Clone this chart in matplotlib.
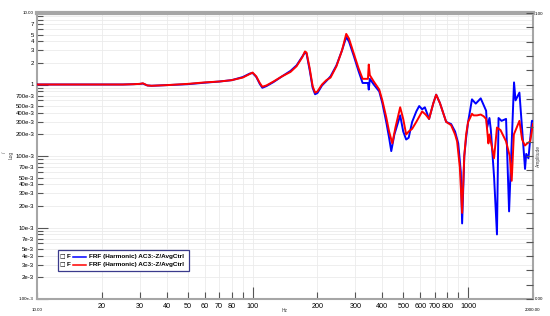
import numpy as np
import matplotlib
matplotlib.use("Agg")
import matplotlib.pyplot as plt
from matplotlib.ticker import FixedLocator, NullFormatter
from matplotlib.lines import Line2D
from matplotlib.patches import Rectangle

plt.rcParams['font.family'] = ['Liberation Sans', 'DejaVu Sans']

# --- data ------------------------------------------------------------------
freq_red = [10, 15, 20, 25, 28, 30, 31, 32.5, 34, 40, 50, 60, 70, 80, 90, 97,
            100, 104, 108, 111, 116, 125, 137, 150, 160, 170, 175, 178, 184,
            190, 195, 200, 210, 220, 230, 245, 260, 272, 280, 295, 310, 324,
            335, 343, 346, 350, 365, 387, 400, 417, 430, 445, 460, 484, 500,
            516, 530, 550, 575, 612, 635, 659, 690, 711, 740, 791, 834, 870,
            889, 915, 938, 960, 979, 1000, 1021, 1042, 1060, 1100, 1144, 1180,
            1212, 1242, 1256, 1280, 1319, 1361, 1414, 1500, 1560, 1593, 1630,
            1730, 1780, 1834, 1880, 1940, 2000]
amp_red = [1.0, 1.0, 1.0, 1.0, 1.01, 1.02, 1.04, 0.97, 0.96, 0.98, 1.02, 1.07,
           1.1, 1.15, 1.25, 1.4, 1.47, 1.3, 1.05, 0.93, 0.97, 1.1, 1.3, 1.5,
           1.8, 2.4, 2.9, 2.8, 1.7, 0.95, 0.77, 0.8, 1.0, 1.15, 1.25, 1.8,
           3.0, 5.1, 4.4, 2.7, 1.7, 1.2, 1.2, 1.2, 1.9, 1.35, 1.1, 0.85, 0.6,
           0.35, 0.22, 0.15, 0.25, 0.48, 0.33, 0.2, 0.22, 0.24, 0.3, 0.42,
           0.38, 0.33, 0.55, 0.72, 0.55, 0.3, 0.27, 0.2, 0.16, 0.07, 0.016,
           0.1, 0.2, 0.3, 0.34, 0.39, 0.37, 0.37, 0.38, 0.36, 0.33, 0.15, 0.2,
           0.15, 0.093, 0.25, 0.23, 0.16, 0.1, 0.045, 0.2, 0.31, 0.17, 0.14,
           0.15, 0.16, 0.28]

freq_blue = [10, 15, 20, 25, 28, 30, 31, 32.5, 34, 40, 50, 60, 70, 80, 90, 97,
             100, 104, 108, 111, 116, 125, 137, 150, 160, 170, 175, 178, 184,
             190, 195, 200, 210, 220, 230, 245, 260, 272, 280, 295, 310, 324,
             335, 343, 346, 350, 365, 387, 400, 417, 430, 440, 455, 484, 500,
             516, 530, 550, 575, 593, 612, 630, 659, 690, 711, 740, 791, 834,
             870, 900, 925, 938, 960, 979, 1000, 1021, 1042, 1085, 1144, 1212,
             1225, 1256, 1275, 1320, 1361, 1384, 1429, 1500, 1549, 1633, 1660,
             1730, 1837, 1860, 1905, 1977, 2000]
amp_blue = [1.0, 1.0, 1.0, 1.0, 1.01, 1.02, 1.03, 0.97, 0.96, 0.98, 1.01,
            1.06, 1.1, 1.15, 1.27, 1.42, 1.45, 1.28, 1.02, 0.9, 0.95, 1.08,
            1.3, 1.55, 1.85, 2.45, 2.8, 2.7, 1.6, 0.9, 0.73, 0.76, 0.97, 1.12,
            1.3, 1.85, 3.0, 4.6, 4.0, 2.5, 1.55, 1.05, 1.05, 1.05, 0.85, 1.2,
            1.0, 0.8, 0.55, 0.3, 0.18, 0.117, 0.2, 0.37, 0.22, 0.17, 0.18, 0.3,
            0.42, 0.5, 0.45, 0.48, 0.33, 0.55, 0.72, 0.55, 0.3, 0.28, 0.22,
            0.15, 0.06, 0.0114, 0.1, 0.18, 0.3, 0.43, 0.62, 0.54, 0.64, 0.43,
            0.25, 0.34, 0.23, 0.05, 0.008, 0.34, 0.31, 0.33, 0.0168, 1.07, 0.6,
            0.77, 0.066, 0.107, 0.093, 0.31, 0.31]

series_label = "FRF (Harmonic) AC3:-Z/AvgCtrl"

x_ticks = [10, 20, 30, 40, 50, 60, 70, 80, 90, 100, 200, 300, 400, 500, 600,
           700, 800, 900, 1000, 2000]
x_labels = ["", "20", "30", "40", "50", "60", "70", "80", "", "100", "200",
            "300", "400", "500", "600", "700", "800", "", "1000", ""]

y_ticks = [m * 10.0 ** e for e in range(-3, 1) for m in range(1, 10)] + [10]
y_label_map = {1: "", 2: "2e-3", 3: "3e-3", 4: "4e-3", 5: "5e-3", 7: "7e-3",
               10: "10e-3", 20: "20e-3", 30: "30e-3", 40: "40e-3",
               50: "50e-3", 70: "70e-3", 100: "100e-3", 200: "200e-3",
               300: "300e-3", 400: "400e-3", 500: "500e-3", 700: "700e-3",
               1000: "1", 2000: "2", 3000: "3", 4000: "4", 5000: "5",
               7000: "7", 10000: ""}

gray = "#a6a6a6"

fig = plt.figure(figsize=(5.5, 3.16), dpi=100)
ax = fig.add_axes([37 / 550, 1 - 299 / 316, 496 / 550, 286 / 316])

ax.plot(freq_blue, amp_blue, color="#0000ff", lw=1.4, zorder=3)
ax.plot(freq_red, amp_red, color="#ff0000", lw=1.4, zorder=4)

ax.set_xscale("log")
ax.set_yscale("log")
ax.set_xlim(10, 2000)
ax.set_ylim(1e-3, 10)

# x axis
ax.xaxis.set_major_locator(FixedLocator(x_ticks))
ax.xaxis.set_minor_locator(FixedLocator([]))
ax.set_xticklabels(x_labels)
ax.xaxis.set_minor_formatter(NullFormatter())
ax.tick_params(axis="x", which="major", direction="in", length=5, width=0.8,
               color="#555555", labelsize=5.2, pad=3)
for t in ax.xaxis.get_major_ticks():
    if t.get_loc() in (100, 1000):
        t.tick1line.set_markersize(9)

# y axis
ax.yaxis.set_major_locator(FixedLocator(y_ticks))
ax.yaxis.set_minor_locator(FixedLocator([]))
ylabs = []
for v in y_ticks:
    key = int(round(v * 1000))
    ylabs.append(y_label_map.get(key, ""))
ax.set_yticklabels(ylabs)
ax.yaxis.set_minor_formatter(NullFormatter())
ax.tick_params(axis="y", which="major", direction="in", length=4, width=0.8,
               color="#555555", labelsize=4.3, pad=2)
for t in ax.yaxis.get_major_ticks():
    if abs(np.log10(t.get_loc()) - round(np.log10(t.get_loc()))) < 1e-6:
        t.tick1line.set_markersize(8)

ax.grid(True, which="major", color="#ebebeb", lw=0.6)
ax.set_axisbelow(True)

for s in ("left", "bottom", "right"):
    ax.spines[s].set_color(gray)
    ax.spines[s].set_linewidth(1.5)
ax.spines["top"].set_color(gray)
ax.spines["top"].set_linewidth(3)

# small end labels
ax.text(-0.008, 1.0, "10.00", transform=ax.transAxes, ha="right",
        va="center", fontsize=3.2)
ax.text(-0.008, 0.0, "1.00e-3", transform=ax.transAxes, ha="right",
        va="center", fontsize=3.2)
ax.text(0.0, -0.03, "10.00", transform=ax.transAxes, ha="center",
        va="top", fontsize=3.2)
ax.text(1.0, -0.03, "2000.00", transform=ax.transAxes, ha="center",
        va="top", fontsize=3.2)

# right amplitude axis
ax2 = ax.twinx()
ax2.set_ylim(0, 1)
ax2.yaxis.set_major_locator(FixedLocator(np.linspace(0, 1, 21)))
ax2.set_yticklabels(["0.00"] + [""] * 19 + ["1.00"])
ax2.tick_params(axis="y", direction="in", length=5, width=0.8,
                color="#555555", labelsize=3.2, pad=1)
for s in ax2.spines.values():
    s.set_visible(False)
ax2.text(1.012, 0.5, "Amplitude", transform=ax2.transAxes, rotation=90,
         ha="center", va="center", fontsize=3.5, color="#444444")

# axis titles
fig.text(285 / 550, 1 - 311 / 316, "Hz", fontsize=3.5, ha="center",
         va="center", color="#444444")
fig.text(11 / 550, 1 - 155 / 316, "Log", fontsize=3.5, rotation=90,
         ha="center", va="center", color="#444444")
fig.text(5 / 550, 1 - 152 / 316, "/", fontsize=3.5, rotation=90,
         ha="center", va="center", color="#444444")

# legend box
fig.patches.append(Rectangle((58 / 550, 1 - 271 / 316), 131 / 550, 21 / 316,
                             transform=fig.transFigure, facecolor="white",
                             edgecolor="#3a3a8c", lw=0.9, zorder=10))
for i, col in enumerate(["#0000ff", "#ff0000"]):
    yy = 1 - (256.5 + 8 * i) / 316
    fig.text(59.5 / 550, yy, "\u25a1", fontsize=4.2, ha="left", va="center",
             family="DejaVu Sans", zorder=11)
    fig.text(66.5 / 550, yy, "F", fontsize=4.6, fontweight="bold", ha="left",
             va="center", zorder=11)
    fig.lines.append(Line2D([73 / 550, 86 / 550], [yy, yy],
                            transform=fig.transFigure, color=col, lw=1.1,
                            zorder=11))
    fig.text(89 / 550, yy, series_label, fontsize=4.6, fontweight="bold",
             ha="left", va="center", zorder=11)

fig.savefig("out.png", dpi=100)
